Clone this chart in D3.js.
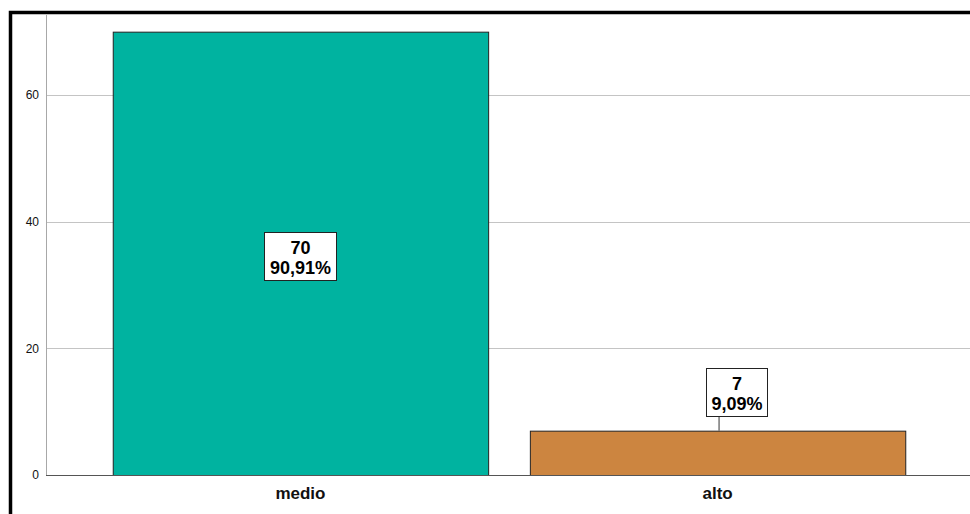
<!DOCTYPE html>
<html>
<head>
<meta charset="utf-8">
<script src="https://cdn.jsdelivr.net/npm/d3@7"></script>
<style>
  html, body { margin: 0; padding: 0; background: #fff; }
  svg { display: block; }
</style>
</head>
<body>
<script>
'use strict';

// chart data
const categories = ["medio", "alto"];
const counts = [70, 7];
const percentLabels = ["90,91%", "9,09%"];
const barColors = ["#00b3a0", "#cc8540"];
const yTicks = [0, 20, 40, 60];

(function() {
  const width = 970, height = 514;

  const svg = d3.select('body')
    .append('svg')
    .attr('width', width)
    .attr('height', height);

  // outer frame (extends past right/bottom edge)
  svg.append('rect')
    .attr('x', 10.5)
    .attr('y', 12.5)
    .attr('width', 1000)
    .attr('height', 600)
    .attr('fill', '#fff')
    .attr('stroke', '#000')
    .attr('stroke-width', 3.5);

  const left = 46, right = 972, top = 15, bottom = 475;
  const font = 'Arial, "Liberation Sans", sans-serif';

  const y = d3.scaleLinear()
    .domain([0, 60])
    .range([bottom, 95]);

  const x = d3.scaleBand()
    .domain(categories)
    .range([left, right])
    .paddingInner(0.1)
    .paddingOuter(0.16);

  // gridlines
  svg.append('g')
    .selectAll('line')
    .data(yTicks.filter(d => d > 0))
    .enter()
    .append('line')
      .attr('x1', left)
      .attr('x2', width)
      .attr('y1', d => Math.round(y(d)) + 0.5)
      .attr('y2', d => Math.round(y(d)) + 0.5)
      .attr('stroke', '#c4c4c4')
      .attr('stroke-width', 1);

  // y axis
  const yAxis = d3.axisLeft(y).tickValues(yTicks).tickSize(0).tickPadding(7);
  const gy = svg.append('g')
    .attr('transform', 'translate(' + left + ',0)')
    .call(yAxis);
  gy.select('.domain').remove();
  gy.selectAll('text')
    .style('font-family', font)
    .style('font-size', '12px')
    .attr('fill', '#111');

  svg.append('line')
    .attr('x1', left + 0.5).attr('x2', left + 0.5)
    .attr('y1', top).attr('y2', bottom)
    .attr('stroke', '#a8a8a8');

  // bars
  svg.append('g')
    .selectAll('rect')
    .data(categories)
    .enter()
    .append('rect')
      .attr('x', d => x(d) + 0.5)
      .attr('y', (d, i) => y(counts[i]) + 0.5)
      .attr('width', x.bandwidth())
      .attr('height', (d, i) => y(0) - y(counts[i]))
      .attr('fill', (d, i) => barColors[i])
      .attr('stroke', '#222')
      .attr('stroke-width', 1);

  // baseline
  svg.append('line')
    .attr('x1', left).attr('x2', width)
    .attr('y1', bottom + 0.5).attr('y2', bottom + 0.5)
    .attr('stroke', '#555');

  // x axis labels
  const xAxis = d3.axisBottom(x).tickSize(0).tickPadding(12);
  const gx = svg.append('g')
    .attr('transform', 'translate(0,' + bottom + ')')
    .call(xAxis);
  gx.select('.domain').remove();
  gx.selectAll('text')
    .style('font-family', font)
    .style('font-size', '17px')
    .style('font-weight', 'bold')
    .attr('fill', '#111');

  // data labels
  const boxW = [72, 61], boxH = 48;
  categories.forEach((c, i) => {
    const cx = x(c) + x.bandwidth() / 2;
    let boxY;
    let bx = cx - boxW[i] / 2;
    if (i === 0) {
      boxY = y(counts[i] / 2) - 21;
    } else {
      bx = cx - 12;
      boxY = y(counts[i]) - 63;
      // leader line
      svg.append('line')
        .attr('x1', cx + 1.5).attr('x2', cx + 1.5)
        .attr('y1', boxY + boxH).attr('y2', y(counts[i]))
        .attr('stroke', '#333');
    }
    const g = svg.append('g');
    g.append('rect')
      .attr('x', Math.round(bx) + 0.5)
      .attr('y', Math.round(boxY) + 0.5)
      .attr('width', boxW[i])
      .attr('height', boxH)
      .attr('fill', '#fff')
      .attr('stroke', '#222');
    const tx = Math.round(bx) + boxW[i] / 2 + 0.5;
    g.append('text')
      .attr('x', tx)
      .attr('y', Math.round(boxY) + 22)
      .attr('text-anchor', 'middle')
      .style('font-family', font)
      .style('font-size', '18px')
      .style('font-weight', 'bold')
      .text(counts[i]);
    g.append('text')
      .attr('x', tx)
      .attr('y', Math.round(boxY) + 42)
      .attr('text-anchor', 'middle')
      .style('font-family', font)
      .style('font-size', '18px')
      .style('font-weight', 'bold')
      .text(percentLabels[i]);
  });
})();
</script>
</body>
</html>
